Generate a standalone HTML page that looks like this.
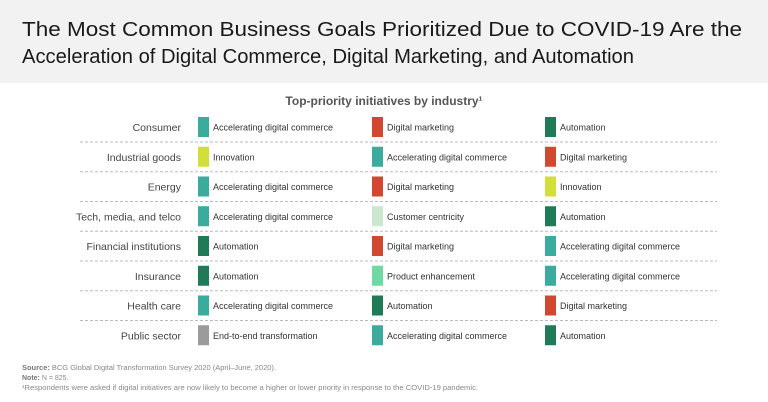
<!DOCTYPE html>
<html><head><meta charset="utf-8"><style>
body{margin:0;background:#fff;}
svg{display:block;font-family:"Liberation Sans",sans-serif;}
</style></head><body>
<svg id="chart" width="768" height="402" viewBox="0 0 768 402">
<rect x="0" y="0" width="768" height="83" fill="#f2f2f2"/>
<text x="22" y="36" font-size="20" fill="#1a1a1a" textLength="720" lengthAdjust="spacingAndGlyphs">The Most Common Business Goals Prioritized Due to COVID-19 Are the</text>
<text x="22" y="63" font-size="20" fill="#1a1a1a" textLength="612" lengthAdjust="spacingAndGlyphs">Acceleration of Digital Commerce, Digital Marketing, and Automation</text>
<text x="384" y="105" font-size="12" font-weight="bold" fill="#555" text-anchor="middle">Top-priority initiatives by industry¹</text>
<g id="rows"></g>
<text x="22" y="370" font-size="7" fill="#888" textLength="254" lengthAdjust="spacingAndGlyphs"><tspan font-weight="bold" fill="#777">Source:</tspan> BCG Global Digital Transformation Survey 2020 (April–June, 2020).</text>
<text x="22" y="380" font-size="7" fill="#888"><tspan font-weight="bold" fill="#777">Note:</tspan> N = 825.</text>
<text x="22" y="390" font-size="7" fill="#888" textLength="456" lengthAdjust="spacingAndGlyphs">¹Respondents were asked if digital initiatives are now likely to become a higher or lower priority in response to the COVID-19 pandemic.</text>
</svg>
<script>
const industries=["Consumer","Industrial goods","Energy","Tech, media, and telco","Financial institutions","Insurance","Health care","Public sector"];
const first=["Accelerating digital commerce","Innovation","Accelerating digital commerce","Accelerating digital commerce","Automation","Automation","Accelerating digital commerce","End-to-end transformation"];
const second=["Digital marketing","Accelerating digital commerce","Digital marketing","Customer centricity","Digital marketing","Product enhancement","Automation","Accelerating digital commerce"];
const third=["Automation","Digital marketing","Innovation","Automation","Accelerating digital commerce","Accelerating digital commerce","Digital marketing","Automation"];
const colors={"Accelerating digital commerce":"#3aab9d","Digital marketing":"#d1472f","Automation":"#1f7a58","Innovation":"#d2de3a","Customer centricity":"#cbe8cf","Product enhancement":"#6fd8a4","End-to-end transformation":"#9b9b9b"};
const NS="http://www.w3.org/2000/svg";
const g=document.getElementById("rows");
const rowY=i=>127+i*29.75;
const colX=[198,372,545];
function mk(t,a){const e=document.createElementNS(NS,t);for(const k in a)e.setAttribute(k,a[k]);g.appendChild(e);return e;}
industries.forEach((ind,i)=>{
  const y=rowY(i);
  const l=mk("text",{x:181,y:y+4,"font-size":"10.5","fill":"#444","text-anchor":"end"});
  l.textContent=ind;
  
  
  [first[i],second[i],third[i]].forEach((v,c)=>{
    const r=mk("rect",{x:colX[c],y:y-10,width:11,height:20,fill:colors[v]});
    
    
    const t=mk("text",{x:colX[c]+15,y:y+3.5,"font-size":"9","fill":"#333"});
    t.textContent=v;
    
    
  });
  if(i<industries.length-1){
    const d=mk("line",{x1:80,x2:717,y1:y+15,y2:y+15,stroke:"#bbb","stroke-width":"1","stroke-dasharray":"3,2"});
    
    
  }
});
</script>
</body></html>
